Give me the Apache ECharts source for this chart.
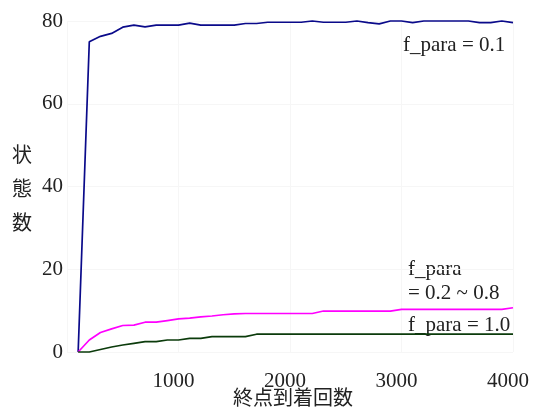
<!DOCTYPE html>
<html><head><meta charset="utf-8">
<script src="https://cdn.jsdelivr.net/npm/echarts@6/dist/echarts.min.js"></script>
<style>html,body{margin:0;padding:0;background:#fff}#c{width:537px;height:407px}</style>
</head><body><div id="c"></div>
<script>
// x: 終点到着回数 (every 100 from 100 to 4000)
const xValues = [100,200,300,400,500,600,700,800,900,1000,1100,1200,1300,1400,1500,1600,1700,1800,1900,2000,2100,2200,2300,2400,2500,2600,2700,2800,2900,3000,3100,3200,3300,3400,3500,3600,3700,3800,3900,4000];
// f_para = 0.1
const seriesA = [0,75,76.3,77,78.5,79,78.6,79,79,79,79.5,79,79,79,79,79.4,79.4,79.7,79.7,79.7,79.7,80,79.7,79.7,79.7,80,79.6,79.3,80,80,79.6,80,80,80,80,80,79.6,79.6,80,79.6];
// f_para = 0.2 ~ 0.8
const seriesB = [0,2.9,4.7,5.6,6.4,6.5,7.2,7.2,7.6,8.0,8.2,8.5,8.7,9.0,9.2,9.3,9.3,9.3,9.3,9.3,9.3,9.3,9.9,9.9,9.9,9.9,9.9,9.9,9.9,10.3,10.3,10.3,10.3,10.3,10.3,10.3,10.3,10.3,10.3,10.7];
// f_para = 1.0
const seriesC = [0,0,0.6,1.2,1.7,2.1,2.5,2.5,2.9,2.9,3.3,3.3,3.7,3.7,3.7,3.7,4.3,4.3,4.3,4.3,4.3,4.3,4.3,4.3,4.3,4.3,4.3,4.3,4.3,4.3,4.3,4.3,4.3,4.3,4.3,4.3,4.3,4.3,4.3,4.3];
const yTicks = [0,20,40,60,80];
const xTicks = [1000,2000,3000,4000];
const seriesNames = ['f_para = 0.1','f_para = 0.2 ~ 0.8','f_para = 1.0'];
const xTitle = '終点到着回数';
const yTitle = '状\n態\n数';

const serif = '"Liberation Serif","DejaVu Serif",serif';
const cjk = '"Noto Sans CJK JP","Noto Sans CJK SC",sans-serif';
const txt = '#222';

function pairs(vals){ return xValues.map((x,i)=>[x, vals[i]]); }
function line(name, vals, color){
  return {name, type:'line', data:pairs(vals), showSymbol:false, symbol:'none',
    lineStyle:{color, width:1.7}, itemStyle:{color}, animation:false, clip:false};
}

const chart = echarts.init(document.getElementById('c'), null, {renderer:'canvas'});
chart.setOption({
  backgroundColor:'#fff',
  animation:false,
  grid:{left:67, right:24, top:21, bottom:55, containLabel:false},
  xAxis:{type:'value', min:0, max:4000, interval:1000,
    axisLine:{show:false}, axisTick:{show:false},
    splitLine:{show:true, lineStyle:{color:'#f6f6f6', width:1}},
    axisLabel:{showMinLabel:false, color:txt, fontFamily:serif, fontSize:21, margin:19,
      padding:[0,10,0,0],
      formatter:v=> xTicks.includes(v) ? String(v) : ''}
  },
  yAxis:{type:'value', min:0, max:80, interval:20,
    axisLine:{show:false}, axisTick:{show:false},
    splitLine:{show:true, lineStyle:{color:'#f6f6f6', width:1}},
    axisLabel:{color:txt, fontFamily:serif, fontSize:21, margin:4,
      formatter:v=> yTicks.includes(v) ? String(v) : ''}
  },
  series:[
    line(seriesNames[0], seriesA, '#0a0a8a'),
    line(seriesNames[1], seriesB, '#ff00ff'),
    line(seriesNames[2], seriesC, '#0b3b0b')
  ],
  graphic:[
    {type:'text', x:403, y:45, style:{text:seriesNames[0], font:'21px '+serif, fill:txt, textVerticalAlign:'middle'}},
    {type:'text', x:408, y:269, style:{text:'f_para', font:'21px '+serif, fill:txt, textVerticalAlign:'middle'}},
    {type:'text', x:408, y:293, style:{text:'= 0.2 ~ 0.8', font:'21px '+serif, fill:txt, textVerticalAlign:'middle'}},
    {type:'text', x:408, y:325, style:{text:seriesNames[2], font:'21px '+serif, fill:txt, textVerticalAlign:'middle'}},
    {type:'text', x:293, y:397, style:{text:xTitle, font:'20px '+cjk, fill:txt, textAlign:'center', textVerticalAlign:'middle'}},
    {type:'text', x:22, y:188, style:{text:yTitle, font:'20px '+cjk, fill:txt, textAlign:'center', textVerticalAlign:'middle', lineHeight:34}}
  ]
});
</script></body></html>
